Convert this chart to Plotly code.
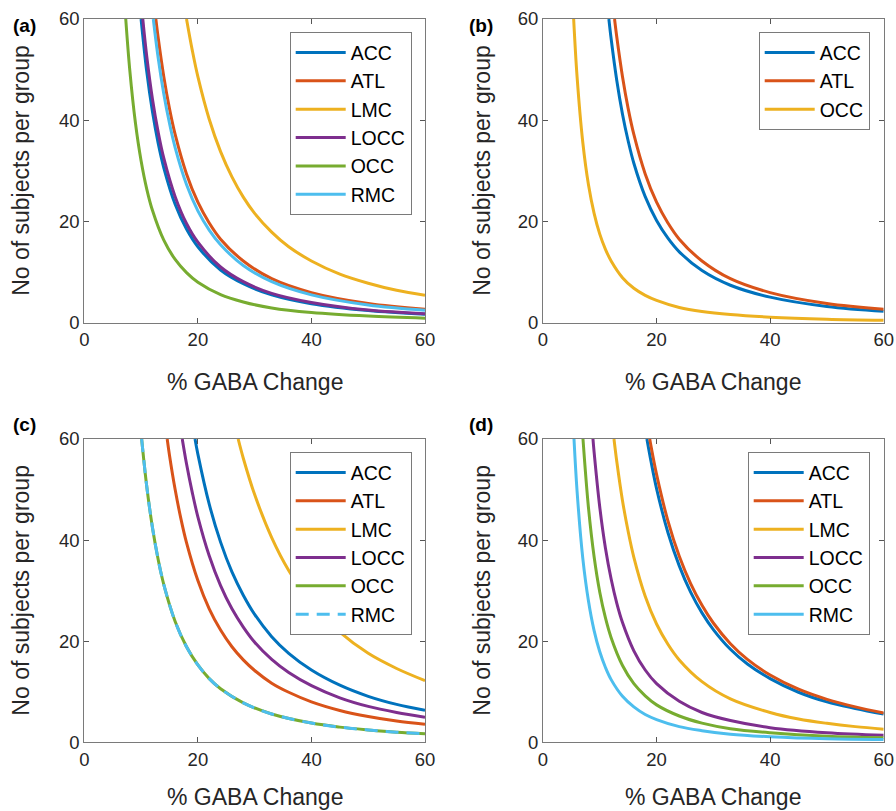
import plotly.graph_objects as go

# ---------------- data ----------------
# Panel (a)
a_acc_x = [10.0, 11, 12, 13, 14, 16, 18, 20, 24, 28, 33, 40, 50, 60]
a_acc_y = [60, 49.6, 41.7, 35.5, 30.6, 23.4, 18.5, 15.0, 10.4, 7.7, 5.5, 3.75, 2.4, 1.67]
a_atl_x = [12.6, 13, 14, 15, 16, 18, 20, 22, 24, 28, 33, 40, 50, 60]
a_atl_y = [60, 56.4, 48.6, 42.3, 37.2, 29.4, 23.8, 19.7, 16.5, 12.2, 8.7, 5.95, 3.8, 2.65]
a_lmc_x = [18, 19, 20, 22, 24, 26, 28, 30, 33, 36, 40, 45, 50, 55, 60]
a_lmc_y = [60, 53.9, 48.6, 40.2, 33.8, 28.8, 24.8, 21.6, 17.9, 15.0, 12.2, 9.6, 7.8, 6.4, 5.4]
a_locc_x = [10.3, 11, 12, 13, 14, 16, 18, 20, 24, 28, 33, 40, 50, 60]
a_locc_y = [60, 52.6, 44.2, 37.7, 32.5, 24.9, 19.6, 15.9, 11.0, 8.1, 5.8, 4.0, 2.5, 1.77]
a_occ_x = [7.3, 8, 9, 10, 11, 12, 14, 16, 18, 20, 24, 28, 33, 40, 50, 60]
a_occ_y = [60, 50.0, 39.5, 32.0, 26.4, 22.2, 16.3, 12.5, 9.9, 8.0, 5.55, 4.1, 2.9, 2.0, 1.3, 0.9]
a_rmc_x = [12.15, 13, 14, 15, 16, 18, 20, 22, 24, 28, 33, 40, 50, 60]
a_rmc_y = [60, 52.4, 45.2, 39.4, 34.6, 27.3, 22.1, 18.3, 15.4, 11.3, 8.1, 5.5, 3.5, 2.46]

# Panel (b)
b_acc_x = [11.6, 12, 13, 14, 15, 16, 18, 20, 22, 24, 28, 33, 40, 50, 60]
b_acc_y = [60, 56.1, 47.8, 41.2, 35.9, 31.5, 24.9, 20.2, 16.7, 14.0, 10.3, 7.4, 5.05, 3.2, 2.24]
b_atl_x = [12.6, 13, 14, 15, 16, 18, 20, 22, 24, 28, 33, 40, 50, 60]
b_atl_y = [60, 56.4, 48.6, 42.3, 37.2, 29.4, 23.8, 19.7, 16.5, 12.2, 8.7, 5.95, 3.8, 2.65]
b_occ_x = [5.4, 6, 7, 8, 9, 10, 11, 12, 14, 16, 18, 20, 24, 28, 33, 40, 50, 60]
b_occ_y = [60, 48.6, 35.7, 27.3, 21.6, 17.5, 14.5, 12.2, 8.9, 6.8, 5.4, 4.4, 3.0, 2.2, 1.6, 1.1, 0.7, 0.49]

# Panel (c)
c_acc_x = [19.5, 20, 22, 24, 26, 28, 30, 33, 36, 40, 45, 50, 55, 60]
c_acc_y = [60, 57.0, 47.1, 39.6, 33.7, 29.1, 25.3, 20.9, 17.6, 14.3, 11.3, 9.1, 7.5, 6.34]
c_atl_x = [14.6, 15, 16, 17, 18, 20, 22, 24, 26, 28, 30, 33, 36, 40, 45, 50, 55, 60]
c_atl_y = [60, 56.8, 50.0, 44.3, 39.5, 32.0, 26.4, 22.2, 18.9, 16.3, 14.2, 11.7, 9.9, 8.0, 6.3, 5.1, 4.2, 3.55]
c_lmc_x = [27.1, 28, 30, 33, 36, 40, 45, 50, 55, 60]
c_lmc_y = [60, 56.2, 49.0, 40.5, 34.0, 27.5, 21.8, 17.6, 14.6, 12.2]
c_locc_x = [17.25, 18, 19, 20, 22, 24, 26, 28, 30, 33, 36, 40, 45, 50, 55, 60]
c_locc_y = [60, 55.1, 49.5, 44.6, 36.9, 31.0, 26.4, 22.8, 19.8, 16.4, 13.8, 11.2, 8.8, 7.1, 5.9, 4.96]
c_occ_x = [10.1, 11, 12, 13, 14, 16, 18, 20, 22, 24, 28, 33, 40, 45, 50, 55, 60]
c_occ_y = [60, 50.6, 42.5, 36.2, 31.2, 23.9, 18.9, 15.3, 12.6, 10.6, 7.8, 5.6, 3.8, 3.0, 2.45, 2.0, 1.7]
c_rmc_x = [10.1, 11, 12, 13, 14, 16, 18, 20, 22, 24, 28, 33, 40, 45, 50, 55, 60]
c_rmc_y = [60, 50.6, 42.5, 36.2, 31.2, 23.9, 18.9, 15.3, 12.6, 10.6, 7.8, 5.6, 3.8, 3.0, 2.45, 2.0, 1.7]

# Panel (d)
d_acc_x = [18.3, 19, 20, 22, 24, 26, 28, 30, 33, 36, 40, 45, 50, 55, 60]
d_acc_y = [60, 55.7, 50.2, 41.5, 34.9, 29.7, 25.6, 22.3, 18.4, 15.5, 12.6, 9.9, 8.0, 6.7, 5.58]
d_atl_x = [18.8, 19, 20, 22, 24, 26, 28, 30, 33, 36, 40, 45, 50, 55, 60]
d_atl_y = [60, 58.7, 53.0, 43.8, 36.8, 31.4, 27.1, 23.6, 19.5, 16.4, 13.3, 10.5, 8.5, 7.0, 5.8]
d_lmc_x = [12.5, 13, 14, 15, 16, 18, 20, 22, 24, 28, 33, 40, 45, 50, 55, 60]
d_lmc_y = [60, 55.5, 47.8, 41.7, 36.6, 28.9, 23.4, 19.4, 16.3, 12.0, 8.6, 5.9, 4.6, 3.75, 3.1, 2.6]
d_locc_x = [8.8, 9, 10, 11, 12, 13, 14, 16, 18, 20, 24, 28, 33, 40, 50, 60]
d_locc_y = [60, 57.4, 46.5, 38.4, 32.3, 27.5, 23.7, 18.1, 14.3, 11.6, 8.1, 5.9, 4.3, 2.9, 1.9, 1.4]
d_occ_x = [7.04, 8, 9, 10, 11, 12, 14, 16, 18, 20, 24, 28, 33, 40, 50, 60]
d_occ_y = [60, 46.5, 36.7, 29.7, 24.6, 20.7, 15.2, 11.6, 9.2, 7.4, 5.2, 3.8, 2.7, 1.9, 1.2, 0.9]
d_rmc_x = [5.46, 6, 7, 8, 9, 10, 11, 12, 14, 16, 18, 20, 24, 28, 33, 40, 50, 60]
d_rmc_y = [60, 49.7, 36.5, 28.0, 22.1, 17.9, 14.8, 12.4, 9.1, 7.0, 5.5, 4.5, 3.1, 2.3, 1.6, 1.1, 0.7, 0.55]

tick_vals = [0, 20, 40, 60]
tick_text = ["0", "20", "40", "60"]
panel_labels = ["(a)", "(b)", "(c)", "(d)"]
x_title = "% GABA Change"
y_title = "No of subjects per group"

# ---------------- styling ----------------
BLUE, ORANGE, YELLOW = "#0072BD", "#D95319", "#EDB120"
PURPLE, GREEN, CYAN = "#7E2F8E", "#77AC30", "#4DBEEE"
TXT = "#262626"
FONT = "Liberation Sans, Arial, Helvetica, sans-serif"
W, H = 896, 811
LW = 3.0

panels = [
    [("ACC", a_acc_x, a_acc_y, BLUE, "solid"), ("ATL", a_atl_x, a_atl_y, ORANGE, "solid"),
     ("LMC", a_lmc_x, a_lmc_y, YELLOW, "solid"), ("LOCC", a_locc_x, a_locc_y, PURPLE, "solid"),
     ("OCC", a_occ_x, a_occ_y, GREEN, "solid"), ("RMC", a_rmc_x, a_rmc_y, CYAN, "solid")],
    [("ACC", b_acc_x, b_acc_y, BLUE, "solid"), ("ATL", b_atl_x, b_atl_y, ORANGE, "solid"),
     ("OCC", b_occ_x, b_occ_y, YELLOW, "solid")],
    [("ACC", c_acc_x, c_acc_y, BLUE, "solid"), ("ATL", c_atl_x, c_atl_y, ORANGE, "solid"),
     ("LMC", c_lmc_x, c_lmc_y, YELLOW, "solid"), ("LOCC", c_locc_x, c_locc_y, PURPLE, "solid"),
     ("OCC", c_occ_x, c_occ_y, GREEN, "solid"), ("RMC", c_rmc_x, c_rmc_y, CYAN, "13px,8px")],
    [("ACC", d_acc_x, d_acc_y, BLUE, "solid"), ("ATL", d_atl_x, d_atl_y, ORANGE, "solid"),
     ("LMC", d_lmc_x, d_lmc_y, YELLOW, "solid"), ("LOCC", d_locc_x, d_locc_y, PURPLE, "solid"),
     ("OCC", d_occ_x, d_occ_y, GREEN, "solid"), ("RMC", d_rmc_x, d_rmc_y, CYAN, "solid")],
]

# plot-area pixel boxes (left, right, top, bottom)
boxes = [(84.3, 425.0, 19.0, 322.7), (543.0, 883.7, 19.0, 322.7),
         (84.3, 425.0, 439.0, 742.3), (543.0, 883.7, 439.0, 742.3)]
legend_tr = [(411.7, 32.3), (869.7, 32.3), (411.7, 452.3), (869.7, 452.3)]
label_pos = [(24, 25), (481, 25), (24, 425), (481, 425)]
ytitle_x = [21, 482, 21, 482]
xtitle_y = [381.5, 381.5, 797.0, 797.0]


def px_x(p):
    return p / W


def px_y(p):
    return 1 - p / H


fig = go.Figure()
layout = dict(width=W, height=H, margin=dict(l=0, r=0, t=0, b=0, autoexpand=False),
              paper_bgcolor="white", plot_bgcolor="white", showlegend=True,
              font=dict(family=FONT, color=TXT))
annotations = []

for i, series in enumerate(panels):
    n = i + 1
    sfx = "" if n == 1 else str(n)
    leg = "legend" if n == 1 else f"legend{n}"
    for name, xs, ys, col, dash in series:
        fig.add_trace(go.Scatter(
            x=xs, y=ys, mode="lines", name=name,
            line=dict(color=col, width=LW, dash=dash, shape="spline", smoothing=1.0),
            xaxis=f"x{sfx}", yaxis=f"y{sfx}", legend=leg, legendgroup=f"{n}{name}",
            hoverinfo="skip"))
    l, r, t, b = boxes[i]
    axis_common = dict(range=[0, 60], tickvals=tick_vals, ticktext=tick_text,
                       ticks="inside", ticklen=5, tickwidth=1, tickcolor="#555555",
                       showline=True, linecolor="#7a7a7a", linewidth=1, mirror="ticks",
                       showgrid=False, zeroline=False, automargin=False,
                       tickfont=dict(size=18.5, color=TXT, family=FONT), fixedrange=True)
    layout[f"xaxis{sfx}"] = dict(axis_common, domain=[px_x(l), px_x(r)], anchor=f"y{sfx}")
    layout[f"yaxis{sfx}"] = dict(axis_common, domain=[px_y(b), px_y(t)], anchor=f"x{sfx}")
    lx, ly = legend_tr[i]
    layout[leg] = dict(x=px_x(lx), y=px_y(ly), xanchor="right", yanchor="top",
                       bgcolor="white", bordercolor="#7a7a7a", borderwidth=1,
                       font=dict(size=19.5, color="#000000", family=FONT),
                       itemwidth=50, tracegroupgap=0, traceorder="normal")
    # panel label
    px_, py_ = label_pos[i]
    annotations.append(dict(text=f"<b>{panel_labels[i]}</b>", x=px_x(px_), y=px_y(py_),
                            xref="paper", yref="paper", showarrow=False,
                            xanchor="center", yanchor="middle",
                            font=dict(size=19, color="#000000", family=FONT)))
    # x title
    annotations.append(dict(text=x_title, x=px_x((l + r) / 2), y=px_y(xtitle_y[i]),
                            xref="paper", yref="paper", showarrow=False,
                            xanchor="center", yanchor="middle",
                            font=dict(size=23, color=TXT, family=FONT)))
    # y title
    annotations.append(dict(text=y_title, x=px_x(ytitle_x[i]), y=px_y((t + b) / 2),
                            xref="paper", yref="paper", showarrow=False, textangle=-90,
                            xanchor="center", yanchor="middle",
                            font=dict(size=23, color=TXT, family=FONT)))

layout["annotations"] = annotations
fig.update_layout(**layout)
fig.write_html("out.html", config={"displayModeBar": False},
               post_script="document.body.style.margin='0';document.body.style.padding='0';"
                           "document.body.style.overflow='hidden';")
